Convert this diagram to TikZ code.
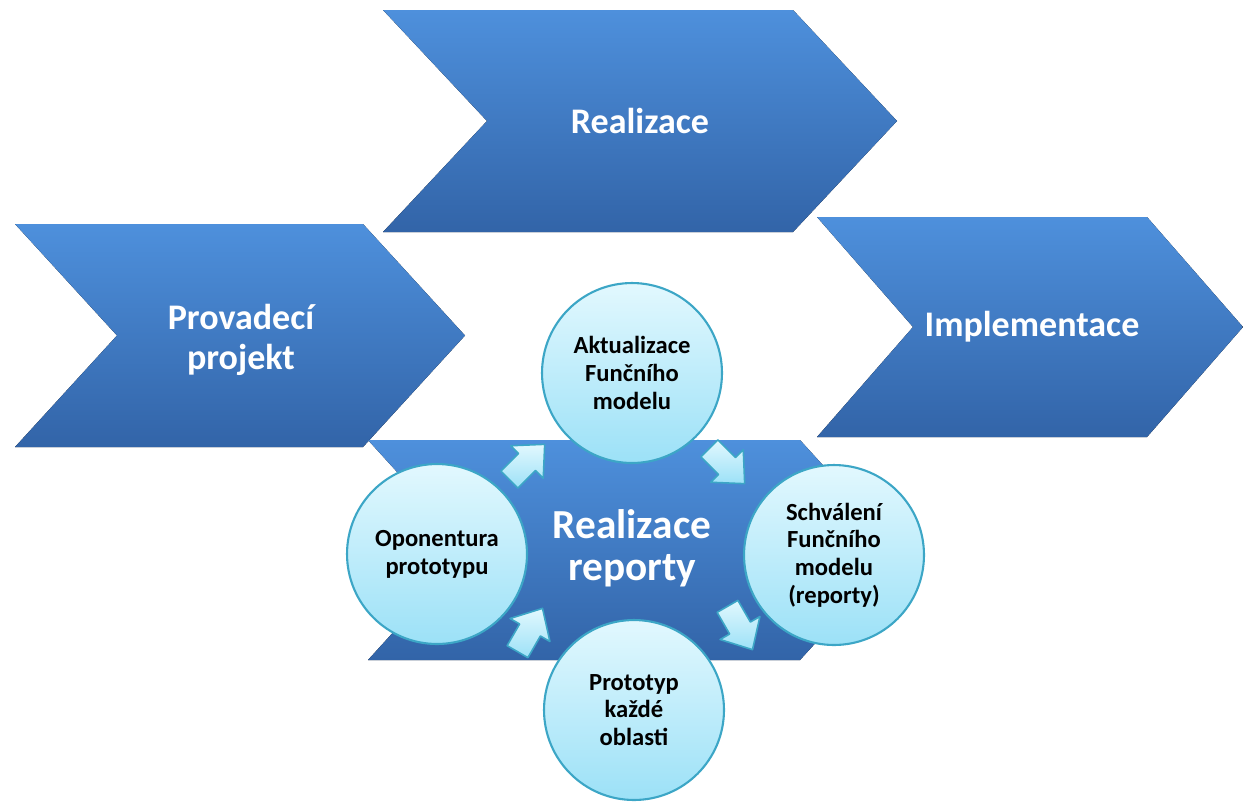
\documentclass[tikz,border=0pt]{standalone}
\usepackage{fontspec}
\setmainfont{Carlito}
\definecolor{chevtop}{RGB}{78,144,220}
\definecolor{chevbot}{RGB}{50,100,168}
\definecolor{cyctop}{RGB}{226,248,254}
\definecolor{cycbot}{RGB}{156,225,247}
\definecolor{cycline}{RGB}{60,166,198}
\begin{document}
\begin{tikzpicture}[x=0.02cm,y=-0.02cm,
    chev/.style={top color=chevtop,bottom color=chevbot},
    chevtext/.style={text=white,align=center,font=\bfseries\fontsize{20.5}{23}\selectfont},
    cyc/.style={circle,draw=cycline,line width=1.2pt,top color=cyctop,bottom color=cycbot,
      minimum size=3.6cm,inner sep=0pt,align=center,font=\bfseries\fontsize{14}{15.8}\selectfont},
    cycarrow/.style={draw=cycline,line width=0.9pt,line join=round,top color=cyctop,bottom color=cycbot}]
    \useasboundingbox (0,0) rectangle (1243,802);
    \foreach \x/\t/\w/\h/\d in {383/10/410/222/104, 15/224/348/223/102, 817/217/330/220/96, 368/440/432/220/100}{
    \fill[chev] (\x,\t)--(\x+\w,\t)--(\x+\w+\d,\t+\h/2)--(\x+\w,\t+\h)--(\x,\t+\h)--(\x+\d,\t+\h/2)--cycle;}
    \node[chevtext] (real) at (640,121) {Realizace};
    \node[chevtext] (prov) at (241,340) {Provadecí\\projekt};
    \node[chevtext] (impl) at (1032,327) {Implementace};
    \node[chevtext,font=\bfseries\fontsize{23.5}{24}\selectfont] (rep) at (632,548) {Realizace\\reporty};
    \node[cyc] (akt) at (632,373) {Aktualizace\\Funčního\\modelu};
    \node[cyc] (schv) at (834,555) {Schválení\\Funčního\\modelu\\(reporty)};
    \node[cyc] (prot) at (634,710) {Prototyp\\každé\\oblasti};
    \node[cyc] (opon) at (437,554) {Oponentura\\prototypu};
    \foreach \px/\py/\a in {527/462/45, 727/466/-45, 740/628/-60, 530/630/60}
    \draw[cycarrow,shift={(\px,\py)},rotate=\a] (-25,-12)--(0,-12)--(0,-23)--(25,0)--(0,23)--(0,12)--(-25,12)--cycle;
\end{tikzpicture}
\end{document}
